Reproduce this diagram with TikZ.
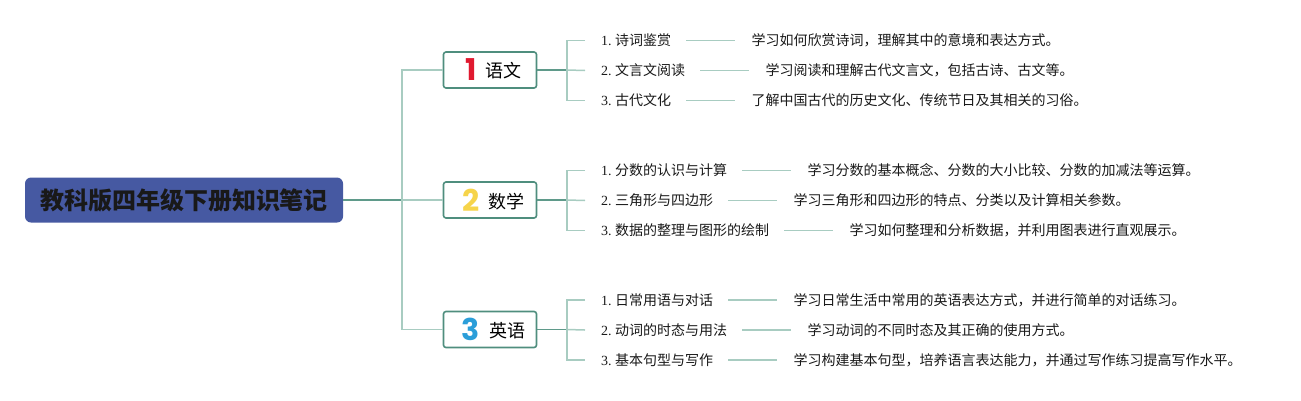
\documentclass[tikz,border=0pt]{standalone}
\usepackage{fontspec}
\setmainfont{Liberation Serif}
\newfontfamily\cjk{Noto Sans CJK SC}
\newfontfamily\numfont{Poppins}
\usetikzlibrary{positioning}
\definecolor{rootfill}{HTML}{4659A2}
\definecolor{darkln}{HTML}{5F9A8A}
\definecolor{lightln}{HTML}{A8CCC1}
\definecolor{boxln}{HTML}{4F8E7E}
\definecolor{numred}{HTML}{E0192F}
\definecolor{numyel}{HTML}{F6D44A}
\definecolor{numblu}{HTML}{2B9ED9}
\tikzset{
  rootbox/.style={fill=rootfill, rounded corners=6pt, minimum width=318pt, minimum height=45pt, inner sep=0pt,
    font=\cjk\fontsize{24}{24}\selectfont\bfseries, text=black!90},
  catbox/.style={draw=boxln, line width=1.6pt, fill=white, rounded corners=2.5pt, minimum width=93pt, minimum height=36pt, inner sep=0pt},
  itemtxt/.style={anchor=west, inner sep=0pt, font=\fontsize{14}{14}\selectfont, text=black!90},
  desctxt/.style={right=80pt of #1, inner sep=0pt, anchor=west, font=\cjk\fontsize{14}{14}\selectfont, text=black!90},
  darkline/.style={draw=darkln, line width=1.8pt},
  lightline/.style={draw=lightln, line width=1.5pt},
}
\newcommand{\catl}[3]{\hspace*{7pt}{\numfont\bfseries\fontsize{30}{30}\selectfont\color{#1}#2}\hspace{9pt}\raisebox{3pt}{\cjk\fontsize{18}{18}\selectfont #3}}
\newcommand{\itm}[2]{#1\ {\cjk #2}}
\begin{document}
\begin{tikzpicture}[x=1pt,y=-1pt]
\useasboundingbox (0,0) rectangle (1301,400);

\node[rootbox] (root) at (184,200) {教科版四年级下册知识笔记};
\coordinate (t) at (402,200);

\node[catbox] (c1) at (490,70) {\catl{numred}{1}{语文}};
\node[catbox] (c2) at (490,200) {\catl{numyel}{2}{数学}};
\node[catbox] (c3) at (490,329.5) {\catl{numblu}{3}{英语}};

\coordinate (s1) at (567,70);
\coordinate (s2) at (567,200);
\coordinate (s3) at (567,329.5);

% items group 1
\node[itemtxt] (i11) at (601,40.5) {\itm{1.}{诗词鉴赏}};
\node[itemtxt] (i12) at (601,70.5) {\itm{2.}{文言文阅读}};
\node[itemtxt] (i13) at (601,100.5) {\itm{3.}{古代文化}};
\node[desctxt=i11] (d11) {学习如何欣赏诗词，理解其中的意境和表达方式。};
\node[desctxt=i12] (d12) {学习阅读和理解古代文言文，包括古诗、古文等。};
\node[desctxt=i13] (d13) {了解中国古代的历史文化、传统节日及其相关的习俗。};
% items group 2
\node[itemtxt] (i21) at (601,170.5) {\itm{1.}{分数的认识与计算}};
\node[itemtxt] (i22) at (601,200.5) {\itm{2.}{三角形与四边形}};
\node[itemtxt] (i23) at (601,230.5) {\itm{3.}{数据的整理与图形的绘制}};
\node[desctxt=i21] (d21) {学习分数的基本概念、分数的大小比较、分数的加减法等运算。};
\node[desctxt=i22] (d22) {学习三角形和四边形的特点、分类以及计算相关参数。};
\node[desctxt=i23] (d23) {学习如何整理和分析数据，并利用图表进行直观展示。};
% items group 3
\node[itemtxt] (i31) at (601,300) {\itm{1.}{日常用语与对话}};
\node[itemtxt] (i32) at (601,330) {\itm{2.}{动词的时态与用法}};
\node[itemtxt] (i33) at (601,360) {\itm{3.}{基本句型与写作}};
\node[desctxt=i31] (d31) {学习日常生活中常用的英语表达方式，并进行简单的对话练习。};
\node[desctxt=i32] (d32) {学习动词的不同时态及其正确的使用方式。};
\node[desctxt=i33] (d33) {学习构建基本句型，培养语言表达能力，并通过写作练习提高写作水平。};

% main connectors
\draw[darkline] (root.east) -- (t);
\draw[lightline] (c1.west) -| (t) |- (c3.west);
\draw[lightline] (t) -- (c2.west);

\foreach \g in {1,2,3}{
  \draw[darkline] (c\g.east) -- (s\g);
  \draw[lightline] ([xshift=-16pt]i\g1.west) -| (s\g) |- ([xshift=-16pt]i\g3.west);
  \draw[lightline] (s\g) -- ([xshift=-16pt]i\g2.west);
  \foreach \k in {1,2,3}{
    \draw[lightline, shorten <=15pt, shorten >=16pt] (i\g\k.east) -- (d\g\k.west);
  }
}
\end{tikzpicture}
\end{document}
